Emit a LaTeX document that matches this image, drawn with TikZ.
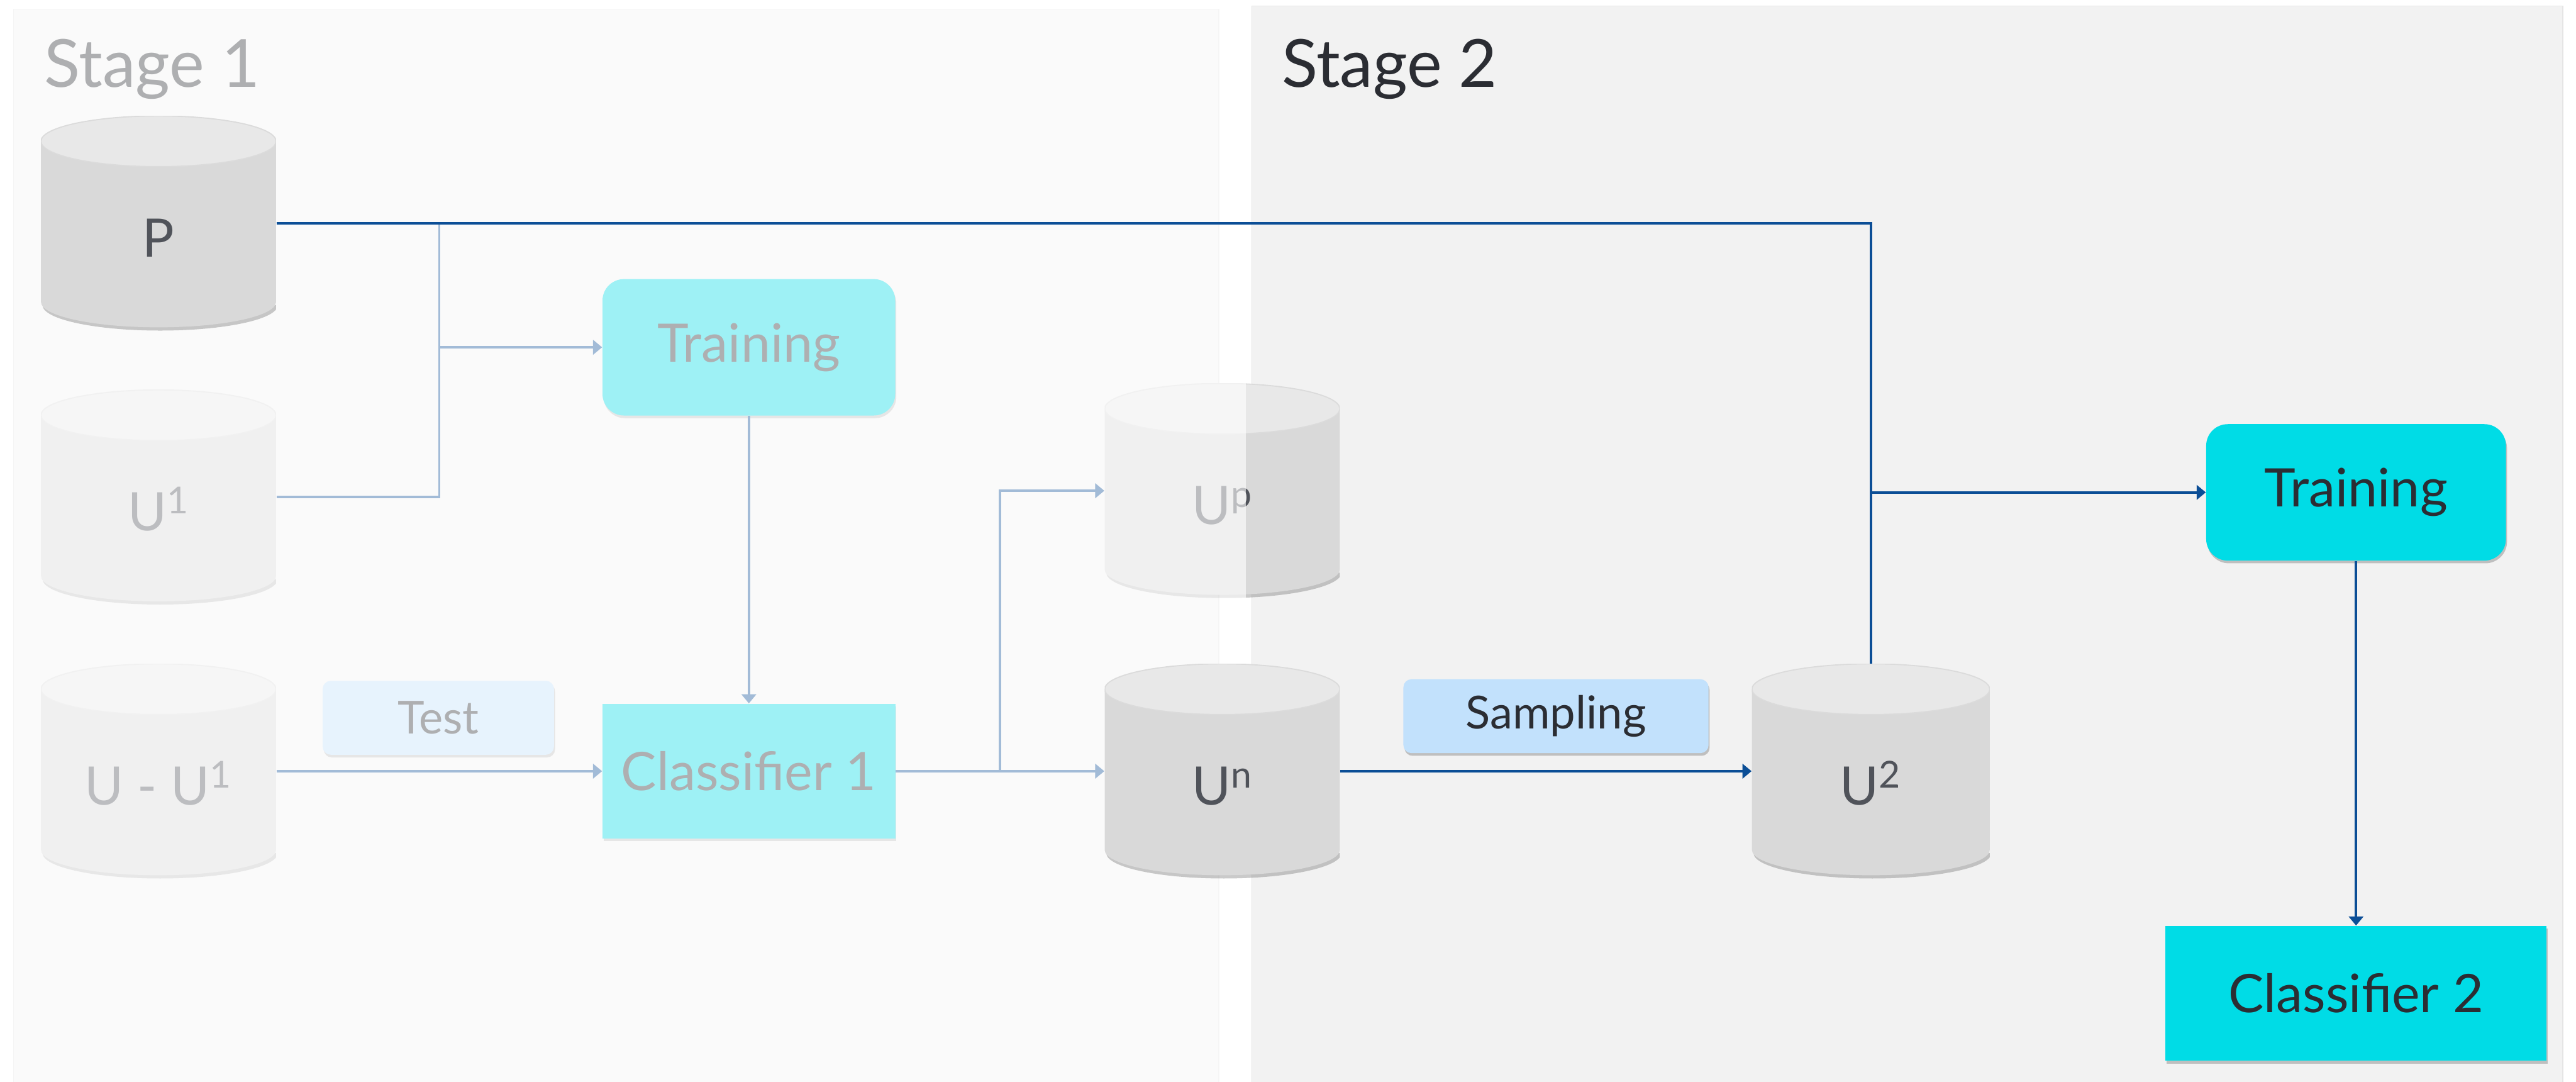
\documentclass[tikz,border=0pt]{standalone}
\usepackage{fontspec}
\setmainfont{Lato}
\usetikzlibrary{arrows.meta, calc, shadows}

\definecolor{cyanbox}{HTML}{00DCE6}
\definecolor{sampblue}{HTML}{C2E1FC}
\definecolor{linkblue}{HTML}{0B4E96}
\definecolor{inktext}{HTML}{2B2D33}
\definecolor{cyltext}{HTML}{50535A}
\definecolor{cylbody}{HTML}{D9D9D9}
\definecolor{cyltop}{HTML}{E8E8E8}
\definecolor{panelgrey}{HTML}{F2F2F2}

\pgfdeclarelayer{panel}
\pgfdeclarelayer{fade}
\pgfdeclarelayer{veil}
\pgfsetlayers{panel,fade,veil,main}

\newcommand{\capry}{4.7mm}

\begin{document}
\begin{tikzpicture}[
  >={Triangle[length=1.7mm, width=2.7mm]},
  line/.style={line width=1.3pt, draw=linkblue},
  flow/.style={line, ->},
  softshadow/.style={drop shadow={shadow xshift=0.02cm, shadow yshift=-0.05cm, opacity=0.3, fill=black!70}},
  datacyl/.style={rectangle, minimum width=#1, minimum height=3.98cm, inner sep=0pt,
                  text=cyltext, font=\fontsize{28}{34}\selectfont, text height=1.25cm, text depth=0pt,
                  path picture={
                    % soft shade under the bottom rim
                    \fill[black!60, opacity=0.35] ([xshift=0.3mm, yshift=\capry]path picture bounding box.south west)
                      arc[start angle=180, end angle=360, x radius=0.5*#1, y radius=\capry] -- cycle;
                    \fill[cylbody] ([yshift=-\capry]path picture bounding box.north west)
                      -- ([yshift=\capry+0.6mm]path picture bounding box.south west)
                      arc[start angle=180, end angle=360, x radius=0.5*#1, y radius=\capry]
                      -- ([yshift=-\capry]path picture bounding box.north east) -- cycle;
                    \fill[cyltop, draw=black!14, line width=0.6pt]
                      ([yshift=-\capry]path picture bounding box.north)
                      ellipse[x radius=0.5*#1, y radius=\capry];
                  }},
  datacyl/.default=4.36cm,
  cyanbox/.style={rectangle, fill=cyanbox, text=inktext, font=\fontsize{28}{34}\selectfont, softshadow},
  stepbox/.style={cyanbox, rounded corners=0.4cm, minimum width=5.5cm, minimum height=2.53cm},
  clsbox/.style={cyanbox, minimum height=2.5cm},
  tagbox/.style={rectangle, rounded corners=0.15cm, fill=sampblue, text=inktext,
                 font=\fontsize{24}{29}\selectfont, minimum height=1.37cm, softshadow},
  title/.style={anchor=base west, text=inktext, font=\fontsize{35}{42}\selectfont},
  panelbox/.style={fill=panelgrey, draw=black!10, line width=0.6pt}
]
\useasboundingbox (0,0) rectangle (47.78,-20.06);

% Panels
\begin{pgfonlayer}{panel}
\draw[panelbox] (0.25,-0.17) rectangle (22.61,-20.4);
\draw[panelbox] (23.22,-0.11) rectangle (47.53,-20.4);
\end{pgfonlayer}

% Stage 2 (and the parts of stage 1 that stay sharp)
\node[datacyl] (p)  at (2.94,-4.14)  {P};
\node[datacyl] (un) at (22.67,-14.30) {U\textsuperscript{n}};
\node[title] (s2title) at (23.65,-1.61) {Stage 2};
\node[tagbox, minimum width=5.66cm] (samp) at (28.86,-13.28) {Sampling};
\node[datacyl=4.41cm] (u2) at (34.70,-14.30) {U\textsuperscript{2}};
\node[stepbox, minimum width=5.56cm] (train2) at (43.70,-9.13) {Training};
\node[clsbox, minimum width=7.07cm] (class2) at (43.70,-18.42) {Classifier 2};

% Stage 1 (faded)
\begin{pgfonlayer}{fade}
\node[title] (s1title) at (0.70,-1.61) {Stage 1};
\node[datacyl] (u1)  at (2.94,-9.22)  {U\textsuperscript{1}};
\node[datacyl] (uu1) at (2.94,-14.30) {U - U\textsuperscript{1}};
\node[stepbox, minimum width=5.43cm] (train1) at (13.89,-6.44) {Training};
\node[tagbox, minimum width=4.29cm] (test) at (8.13,-13.31) {Test};
\node[clsbox, minimum width=5.43cm] (class1) at (13.89,-14.30) {Classifier 1};
\node[datacyl] (up) at (22.67,-9.10) {U\textsuperscript{p}};

\coordinate (pjoin) at ($(p.east)!.5!(train1.west |- p.east)$);
\coordinate (cjoin) at ($(class1.east)!.5!(un.west)$);
\draw[line] (u1.east) -| (pjoin);
\draw[flow] (pjoin |- train1.west) -- (train1.west);
\draw[flow] (train1) -- (class1);
\draw[flow] (uu1.east) -- (class1.west);
\draw[flow] (class1.east) -- (un.west);
\draw[flow] (cjoin) |- (up.west);
\end{pgfonlayer}

% White veil over stage 1
\begin{pgfonlayer}{veil}
\fill[white, opacity=0.62] (0,0.1) rectangle (23.11,-20.4);
\end{pgfonlayer}

% Connectors
\coordinate (tjoin) at (u2.north |- train2.west);
\draw[line] (p.east) -| (tjoin);
\draw[flow] (u2.north) |- (train2.west);
\draw[flow] (un.east) -- (u2.west);
\draw[flow] (train2) -- (class2);

\end{tikzpicture}
\end{document}
